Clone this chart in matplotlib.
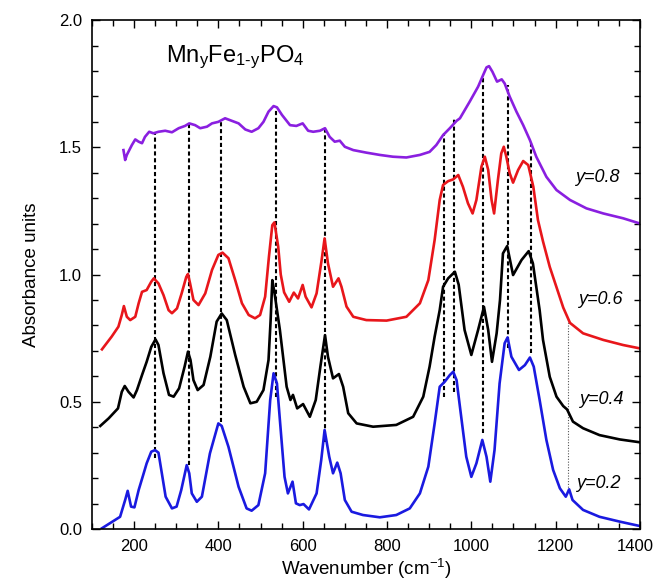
import numpy as np
import matplotlib.pyplot as plt
from matplotlib.ticker import MultipleLocator, FuncFormatter

plt.rcParams['font.family'] = ['Liberation Sans', 'DejaVu Sans']
plt.rcParams['mathtext.fontset'] = 'custom'
plt.rcParams['mathtext.rm'] = 'Liberation Sans'
plt.rcParams['mathtext.it'] = 'Liberation Sans:italic'

# spectra (wavenumber, absorbance)
y02_x = [124, 167, 179, 185, 193, 201, 211, 223, 230, 241,
         250, 258, 266, 275, 290, 301, 312, 325, 331, 337,
         349, 361, 380, 400, 408, 424, 448, 467, 479, 495,
         511, 523, 531, 539, 546, 557, 565, 576, 584, 593,
         602, 615, 633, 644, 652, 663, 672, 682, 690, 700,
         716, 743, 783, 822, 854, 878, 898, 913, 925, 937,
         949, 957, 965, 973, 988, 1000, 1012, 1026, 1036, 1045,
         1055, 1067, 1079, 1086, 1095, 1113, 1127, 1139, 1148, 1162,
         1178, 1194, 1210, 1224, 1232, 1240, 1265, 1304, 1352, 1399]
y02_y = [0.003, 0.048, 0.114, 0.15, 0.088, 0.085, 0.153, 0.219, 0.258, 0.304,
         0.31, 0.30, 0.219, 0.127, 0.081, 0.088, 0.153, 0.251, 0.219, 0.14,
         0.107, 0.127, 0.297, 0.415, 0.405, 0.323, 0.166, 0.081, 0.072, 0.094,
         0.219, 0.507, 0.612, 0.572, 0.428, 0.205, 0.14, 0.186, 0.101, 0.094,
         0.098, 0.077, 0.14, 0.271, 0.389, 0.284, 0.219, 0.261, 0.219, 0.114,
         0.068, 0.055, 0.046, 0.055, 0.081, 0.14, 0.245, 0.415, 0.559, 0.579,
         0.605, 0.618, 0.585, 0.48, 0.284, 0.205, 0.258, 0.35, 0.284, 0.186,
         0.31, 0.572, 0.73, 0.753, 0.677, 0.625, 0.644, 0.674, 0.638, 0.507,
         0.35, 0.232, 0.16, 0.127, 0.156, 0.114, 0.075, 0.048, 0.029, 0.012]

y04_x = [120, 140, 162, 171, 178, 187, 199, 207, 219, 230,
         241, 251, 258, 270, 283, 294, 307, 320, 328, 334,
         341, 351, 365, 381, 396, 408, 420, 440, 460, 476,
         491, 507, 519, 524, 528, 533, 546, 562, 571, 577,
         587, 601, 617, 631, 642, 653, 660, 672, 686, 696,
         708, 728, 767, 822, 862, 886, 901, 913, 925, 933,
         945, 961, 970, 984, 1000, 1016, 1030, 1040, 1049, 1060,
         1068, 1075, 1085, 1099, 1119, 1136, 1146, 1162, 1170, 1186,
         1202, 1218, 1227, 1241, 1265, 1304, 1352, 1399]
y04_y = [0.405, 0.435, 0.474, 0.539, 0.562, 0.539, 0.517, 0.546, 0.605, 0.657,
         0.716, 0.745, 0.723, 0.612, 0.527, 0.52, 0.553, 0.638, 0.697, 0.664,
         0.585, 0.546, 0.566, 0.677, 0.815, 0.847, 0.821, 0.684, 0.559, 0.494,
         0.5, 0.546, 0.664, 0.82, 0.978, 0.93, 0.782, 0.559, 0.507, 0.527,
         0.474, 0.491, 0.441, 0.507, 0.638, 0.762, 0.677, 0.592, 0.609, 0.559,
         0.455, 0.415, 0.402, 0.409, 0.441, 0.52, 0.638, 0.756, 0.86, 0.952,
         0.985, 1.011, 0.96, 0.782, 0.684, 0.782, 0.873, 0.782, 0.657, 0.769,
         0.9, 1.083, 1.112, 0.998, 1.057, 1.092, 1.044, 0.86, 0.743, 0.598,
         0.52, 0.483, 0.47, 0.422, 0.396, 0.369, 0.352, 0.341]

y06_x = [124, 147, 163, 171, 176, 183, 191, 203, 211, 219,
         230, 241, 247, 258, 270, 282, 290, 302, 313, 324,
         328, 333, 341, 353, 369, 385, 400, 410, 424, 440,
         456, 472, 487, 499, 511, 520, 528, 533, 542, 548,
         556, 568, 579, 589, 600, 607, 621, 633, 645, 652,
         660, 672, 685, 692, 704, 720, 751, 799, 846, 878,
         898, 913, 925, 933, 945, 957, 969, 980, 992, 1003,
         1012, 1024, 1032, 1040, 1048, 1054, 1063, 1071, 1077, 1083,
         1091, 1099, 1111, 1123, 1135, 1147, 1158, 1170, 1186, 1202,
         1218, 1234, 1265, 1313, 1360, 1399]
y06_y = [0.706, 0.756, 0.795, 0.841, 0.876, 0.834, 0.821, 0.834, 0.887, 0.932,
         0.939, 0.972, 0.985, 0.965, 0.919, 0.86, 0.848, 0.867, 0.926, 0.991,
         1.002, 0.965, 0.9, 0.88, 0.926, 1.018, 1.077, 1.086, 1.064, 0.978,
         0.887, 0.841, 0.828, 0.841, 0.913, 1.07, 1.194, 1.205, 1.109, 1.0,
         0.93, 0.893, 0.929, 0.906, 0.959, 0.913, 0.871, 0.926, 1.057, 1.142,
         1.044, 0.952, 0.985, 0.952, 0.874, 0.834, 0.821, 0.819, 0.834, 0.887,
         0.978, 1.136, 1.293, 1.352, 1.367, 1.374, 1.391, 1.345, 1.28, 1.24,
         1.293, 1.424, 1.463, 1.411, 1.293, 1.24, 1.371, 1.476, 1.502, 1.463,
         1.398, 1.361, 1.411, 1.446, 1.43, 1.345, 1.214, 1.13, 1.03, 0.95,
         0.87, 0.81, 0.769, 0.743, 0.723, 0.71]

y08_x = [175, 179, 183, 195, 203, 211, 219, 226, 236, 246,
         258, 274, 290, 306, 321, 331, 345, 357, 373, 385,
         400, 416, 432, 448, 464, 479, 495, 507, 519, 531,
         539, 551, 570, 585, 600, 613, 625, 641, 653, 664,
         676, 688, 700, 720, 751, 783, 814, 846, 878, 901,
         917, 933, 949, 965, 973, 996, 1016, 1028, 1036, 1042,
         1050, 1061, 1072, 1079, 1091, 1107, 1123, 1139, 1154, 1178,
         1202, 1234, 1273, 1313, 1360, 1399]
y08_y = [1.489, 1.45, 1.47, 1.509, 1.531, 1.522, 1.516, 1.541, 1.561, 1.555,
         1.561, 1.565, 1.559, 1.575, 1.584, 1.594, 1.587, 1.575, 1.581, 1.594,
         1.6, 1.614, 1.604, 1.594, 1.57, 1.561, 1.575, 1.6, 1.64, 1.662,
         1.657, 1.627, 1.587, 1.584, 1.594, 1.565, 1.561, 1.565, 1.575, 1.541,
         1.522, 1.526, 1.502, 1.489, 1.479, 1.47, 1.463, 1.46, 1.47, 1.482,
         1.509, 1.548, 1.575, 1.604, 1.614, 1.679, 1.738, 1.784, 1.814, 1.819,
         1.797, 1.758, 1.767, 1.751, 1.699, 1.64, 1.587, 1.528, 1.463, 1.384,
         1.332, 1.293, 1.26, 1.24, 1.221, 1.201]

# band positions marked with dashed lines
band_x = [250, 330, 407, 537, 652, 935, 960, 1027, 1088, 1142]
band_top = [1.557, 1.594, 1.604, 1.646, 1.571, 1.555, 1.62, 1.777, 1.745, 1.518]
band_bottom = [0.28, 0.25, 0.42, 0.517, 0.343, 0.52, 0.537, 0.376, 0.71, 0.69]
weak_x, weak_top, weak_bottom = 1230, 0.83, 0.153

labels = ['y=0.2', 'y=0.4', 'y=0.6', 'y=0.8']
label_x = [1300, 1308, 1305, 1298]
label_y = [0.18, 0.507, 0.9, 1.383]

x_min, x_max = 100, 1400

fig = plt.figure(figsize=(6.56, 5.83), dpi=100)
ax = fig.add_axes([0.140, 0.0926, 0.8356, 0.873])

ax.vlines(band_x, band_bottom, band_top, colors='black', linewidth=1.5,
          linestyles=(0, (2, 1.3)), zorder=1)
ax.vlines(weak_x, weak_bottom, weak_top, colors='#555555', linewidth=0.8,
          linestyles=(0, (1, 1.5)), zorder=1)

lw = 1.9
ax.plot(y02_x, y02_y, color='#1a1ae0', lw=lw, zorder=2)
ax.plot(y04_x, y04_y, color='black', lw=lw, zorder=2)
ax.plot(y06_x, y06_y, color='#e8161b', lw=lw, zorder=2)
ax.plot(y08_x, y08_y, color='#8a1fe0', lw=lw, zorder=2)

for t, lx, ly in zip(labels, label_x, label_y):
    ax.text(lx, ly, t, fontsize=13, style='italic', ha='center', va='center',
            zorder=3)

ax.text(439, 1.855, r'Mn$_\mathregular{y}$Fe$_\mathregular{1\text{-}y}$PO$_\mathregular{4}$',
        fontsize=17, ha='center', va='center')

ax.set_xlim(x_min, x_max)
ax.set_ylim(0, 2.0)
ax.xaxis.set_major_locator(MultipleLocator(200))
ax.xaxis.set_minor_locator(MultipleLocator(50))
# the 1400 label sits right on the figure edge, drawn separately below
ax.xaxis.set_major_formatter(FuncFormatter(lambda v, p: '' if v >= x_max else f'{v:.0f}'))
ax.yaxis.set_major_locator(MultipleLocator(0.5))
ax.yaxis.set_minor_locator(MultipleLocator(0.1))
ax.yaxis.set_major_formatter(plt.FormatStrFormatter('%.1f'))
ax.tick_params(which='both', direction='in', top=True, right=True,
               labelsize=12, width=1.0)
ax.tick_params(which='major', length=6, pad=7)
ax.tick_params(which='minor', length=4)
for s in ax.spines.values():
    s.set_linewidth(1.2)

ax.annotate(f'{x_max}', xy=(x_max, 0), xycoords=('data', 'axes fraction'),
            xytext=(-3.5, -7), textcoords='offset points',
            ha='center', va='top', fontsize=12)

ax.set_xlabel(r'Wavenumber (cm$^\mathregular{-1}$)', fontsize=13.5, labelpad=2)
ax.set_ylabel('Absorbance units', fontsize=13.5, labelpad=14)

fig.savefig('out.png', dpi=100)
